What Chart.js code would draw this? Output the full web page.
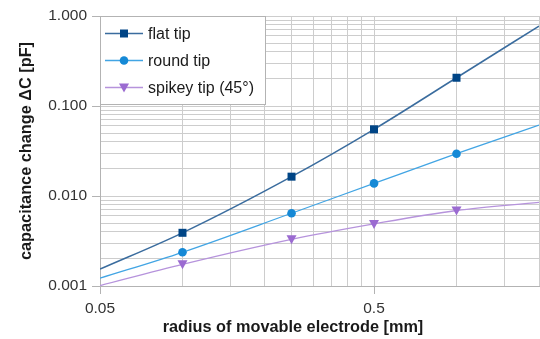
<!DOCTYPE html>
<html>
<head>
<meta charset="utf-8">
<script src="https://cdn.jsdelivr.net/npm/chart.js@4/dist/chart.umd.min.js"></script>
<style>
  body { margin: 0; background: #fff; }
  canvas { display: block; }
</style>
</head>
<body>
<canvas id="chart" width="540" height="339"></canvas>
<script>
// measured points (radius in mm, capacitance change in pF)
const radiusMm = [0.1, 0.25, 0.5, 1.0];
const flatTip = [0.0039, 0.0164, 0.0551, 0.206];
const roundTip = [0.00237, 0.00643, 0.0138, 0.0295];
const spikeyTip = [0.00174, 0.0033, 0.0049, 0.0069];

// trend lines
const trendX = [0.05, 0.1, 0.25, 0.5, 1.0, 2.0];
const flatTrend = [0.00154, 0.0039, 0.0164, 0.0551, 0.206, 0.774];
const roundTrend = [0.00122, 0.00237, 0.00643, 0.0138, 0.0295, 0.0615];
const spikeyTrend = [0.00101, 0.00174, 0.0033, 0.0049, 0.0069, 0.0085];

const seriesNames = ['flat tip', 'round tip', 'spikey tip (45°)'];
const xTitle = 'radius of movable electrode [mm]';
const yTitle = 'capacitance change ΔC [pF]';

// axis ticks (grid lines) and the ones that get a label
const xTicks = [0.05, 0.1, 0.15, 0.2, 0.25, 0.3, 0.35, 0.4, 0.45, 0.5, 1.0, 1.5, 2.0];
const xLabels = ['0.05', '0.5'];
const yTicks = [0.001, 0.002, 0.003, 0.004, 0.005, 0.006, 0.007, 0.008, 0.009,
                0.01, 0.02, 0.03, 0.04, 0.05, 0.06, 0.07, 0.08, 0.09,
                0.1, 0.2, 0.3, 0.4, 0.5, 0.6, 0.7, 0.8, 0.9, 1.0];
const yLabels = ['0.001', '0.010', '0.100', '1.000'];

const FONT = "'Liberation Sans', Arial, sans-serif";
const styles = [
  {line: '#3a6c9e', marker: '#004586', shape: 'square'},
  {line: '#42a5e4', marker: '#1589d6', shape: 'circle'},
  {line: '#b693dc', marker: '#9b6bd1', shape: 'triDown'}
];

const pts = (xs, ys) => xs.map((x, i) => ({x: x, y: ys[i]}));
const labelFor = (list, v) => list.find(l => Math.abs(parseFloat(l) - v) < 1e-9) || '';

function drawMarker(ctx, shape, x, y, color) {
  ctx.save();
  ctx.fillStyle = color;
  ctx.beginPath();
  if (shape === 'square') {
    ctx.rect(x - 4, y - 4, 8, 8);
  } else if (shape === 'circle') {
    ctx.arc(x, y, 4.3, 0, Math.PI * 2);
  } else {
    ctx.moveTo(x - 5, y - 4);
    ctx.lineTo(x + 5, y - 4);
    ctx.lineTo(x, y + 5);
    ctx.closePath();
  }
  ctx.fill();
  ctx.restore();
}

// markers drawn by hand so the triangle can point down
const markerShapes = {
  id: 'markerShapes',
  afterDatasetsDraw(chart) {
    const ctx = chart.ctx;
    chart.data.datasets.forEach((ds, i) => {
      if (!ds.isMarkers) return;
      const meta = chart.getDatasetMeta(i);
      meta.data.forEach(p => drawMarker(ctx, ds.shape, p.x, p.y, ds.markerColor));
    });
  }
};

// legend box inside the plot + x title (centred a bit left of the plot centre)
const boxLegend = {
  id: 'boxLegend',
  afterDraw(chart) {
    const ctx = chart.ctx;
    const left = chart.chartArea.left, top = chart.chartArea.top;
    ctx.save();
    ctx.fillStyle = '#ffffff';
    ctx.strokeStyle = '#b3b3b3';
    ctx.lineWidth = 1;
    ctx.fillRect(left, top, 166, 89);
    ctx.strokeRect(left + 0.5, top + 0.5, 165, 88);
    ctx.font = '16px ' + FONT;
    ctx.textBaseline = 'middle';
    seriesNames.forEach((name, i) => {
      const y = top + 17.5 + i * 27;
      ctx.strokeStyle = styles[i].line;
      ctx.lineWidth = 1.5;
      ctx.beginPath();
      ctx.moveTo(left + 5, y);
      ctx.lineTo(left + 43, y);
      ctx.stroke();
      drawMarker(ctx, styles[i].shape, left + 24, y, styles[i].marker);
      ctx.fillStyle = '#1a1a1a';
      ctx.fillText(name, left + 48, y + 1);
    });
    ctx.font = 'bold 16.3px ' + FONT;
    ctx.textAlign = 'center';
    ctx.fillText(xTitle, 293, 328);
    ctx.restore();
  }
};

const trendSets = [flatTrend, roundTrend, spikeyTrend];
const markerSets = [flatTip, roundTip, spikeyTip];
const datasets = [];
markerSets.forEach((ys, i) => {
  datasets.push({
    label: seriesNames[i],
    data: pts(radiusMm, ys),
    showLine: false,
    pointRadius: 0,
    isMarkers: true,
    shape: styles[i].shape,
    markerColor: styles[i].marker,
    order: 0
  });
});
trendSets.forEach((ys, i) => {
  datasets.push({
    label: seriesNames[i] + ' trend',
    data: pts(trendX, ys),
    showLine: true,
    pointRadius: 0,
    borderColor: styles[i].line,
    borderWidth: i === 0 ? 1.5 : 1.3,
    cubicInterpolationMode: 'monotone',
    order: 1
  });
});

new Chart(document.getElementById('chart'), {
  type: 'scatter',
  data: {datasets: datasets},
  options: {
    responsive: false,
    animation: false,
    devicePixelRatio: 1,
    layout: {padding: {top: 16, right: 1, left: 0, bottom: 0}},
    plugins: {legend: {display: false}, tooltip: {enabled: false}},
    scales: {
      x: {
        type: 'logarithmic',
        position: 'bottom',
        min: 0.05,
        max: 2,
        afterBuildTicks: (axis) => { axis.ticks = xTicks.map(v => ({value: v})); },
        afterFit: (axis) => {
          axis.height = 53;
          axis.paddingLeft = 0;
          axis.paddingRight = 0;
        },
        grid: {
          color: '#cdcdcd',
          tickLength: 8,
          tickColor: (c) => labelFor(xLabels, c.tick.value) ? '#b3b3b3' : 'rgba(0,0,0,0)'
        },
        border: {color: '#b3b3b3'},
        ticks: {
          autoSkip: false,
          maxRotation: 0,
          padding: 5,
          color: '#333333',
          font: {family: FONT, size: 15.5},
          callback: (v) => labelFor(xLabels, v)
        }
      },
      y: {
        type: 'logarithmic',
        position: 'left',
        min: 0.001,
        max: 1,
        afterBuildTicks: (axis) => { axis.ticks = yTicks.map(v => ({value: v})); },
        afterFit: (axis) => { axis.width = 100; },
        grid: {
          color: '#cdcdcd',
          tickLength: 8,
          tickColor: (c) => labelFor(yLabels, c.tick.value) ? '#b3b3b3' : 'rgba(0,0,0,0)'
        },
        border: {color: '#b3b3b3'},
        ticks: {
          autoSkip: false,
          padding: 5,
          color: '#333333',
          font: {family: FONT, size: 15.5},
          callback: (v) => labelFor(yLabels, v)
        },
        title: {
          display: true,
          text: yTitle,
          color: '#1a1a1a',
          font: {family: FONT, size: 16.3, weight: 'bold', lineHeight: 1.2},
          padding: {top: 16.7, bottom: 0}
        }
      }
    }
  },
  plugins: [markerShapes, boxLegend]
});
</script>
</body>
</html>
